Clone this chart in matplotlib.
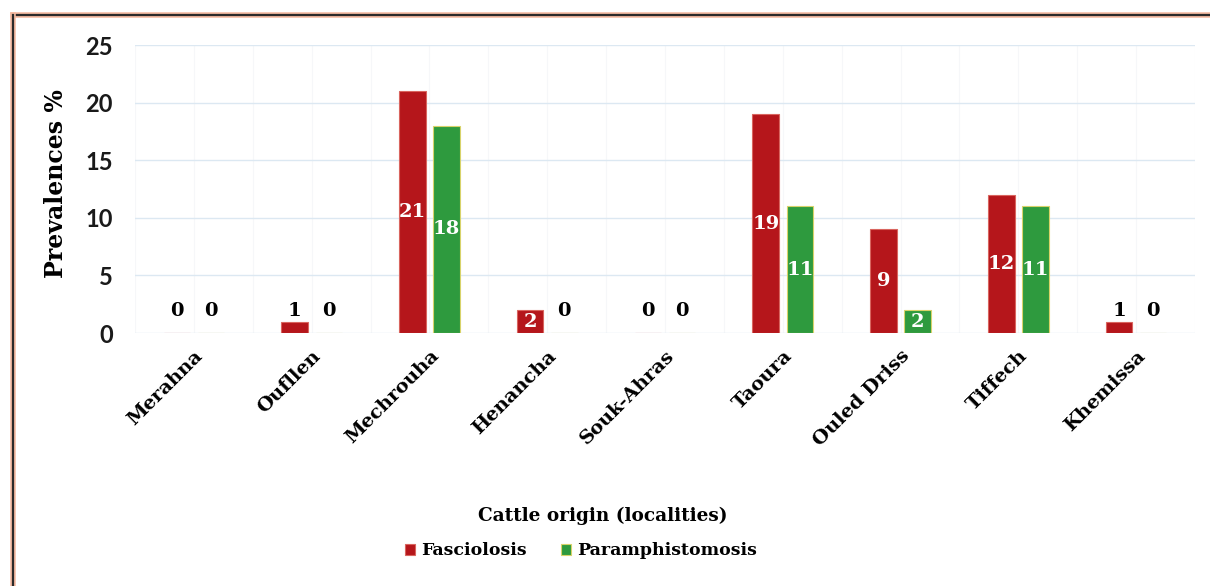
import numpy as np
import matplotlib
matplotlib.use("Agg")
import matplotlib.pyplot as plt
from matplotlib.lines import Line2D

localities = ["Merahna", "Oufllen", "Mechrouha", "Henancha", "Souk-Ahras",
              "Taoura", "Ouled Driss", "Tiffech", "Khemissa"]
fasciolosis = [0, 1, 21, 2, 0, 19, 9, 12, 1]
paramphistomosis = [0, 0, 18, 0, 0, 11, 2, 11, 0]

red = "#b5161b"
green = "#2e9a3e"
serif = "DejaVu Serif"
sans = "Lato"

fig = plt.figure(figsize=(12.1, 5.86), dpi=100)
ax = fig.add_axes([0.1116, 0.4317, 0.876, 0.4915])

x = np.arange(len(localities))
w = 0.225
off = 0.145
b1 = ax.bar(x - off, fasciolosis, w, color=red, edgecolor="#d9655f", linewidth=0.8, label="Fasciolosis")
b2 = ax.bar(x + off, paramphistomosis, w, color=green, edgecolor="#d8d36a", linewidth=0.8, label="Paramphistomosis")

# value labels: inside the bar when it is tall enough, otherwise just above the base
for xs, vals in ((x - off, fasciolosis), (x + off, paramphistomosis)):
    for xi, v in zip(xs, vals):
        if v >= 2:
            ax.text(xi, v / 2, str(v), ha="center", va="center", color="white",
                    fontsize=14, fontweight="bold", family=serif)
        else:
            ax.text(xi, 1.9, str(v), ha="center", va="center", color="black",
                    fontsize=14, fontweight="bold", family=serif)

ax.set_xlim(-0.5, len(localities) - 0.5)
ax.set_ylim(0, 25)
ax.set_yticks([0, 5, 10, 15, 20, 25])
ax.yaxis.grid(True, color="#dce8f2", linewidth=1.0)
for xv in np.arange(-0.5, len(localities), 0.5):
    ax.axvline(xv, color="#f6f7f9", linewidth=0.8, zorder=0)
ax.set_axisbelow(True)
for s in ax.spines.values():
    s.set_visible(False)
ax.tick_params(length=0)
ax.tick_params(axis="y", pad=16)
ax.tick_params(axis="x", pad=10)

ax.set_xticks(x)
ax.set_xticklabels(localities, rotation=45, ha="right", va="top", rotation_mode="anchor",
                   fontsize=14, fontweight="bold", family=serif)
for lab in ax.get_yticklabels():
    lab.set_fontsize(17)
    lab.set_fontweight("bold")
    lab.set_family(sans)
    lab.set_color("#1a1a1a")

ax.set_ylabel("Prevalences %", fontsize=17, fontweight="bold", family=serif)
ax.yaxis.set_label_coords(-0.063, 0.52)

fig.text(0.498, 0.119, "Cattle origin (localities)", ha="center", va="center",
         fontsize=13.3, fontweight="bold", family=serif)
fig.legend(handles=[b1, b2], loc="center", bbox_to_anchor=(0.48, 0.06), ncol=2,
           frameon=False, prop={"family": serif, "weight": "bold", "size": 12.5},
           handlelength=0.6, handleheight=0.6, handletextpad=0.3, columnspacing=2.0)

# outer frame: top and left edges only
for xs, ys in (([0.011, 1.0], [0.974, 0.974]), ([0.011, 0.011], [0.974, 0.0])):
    fig.add_artist(Line2D(xs, ys, transform=fig.transFigure, color="#f4b9a0", linewidth=4))
    fig.add_artist(Line2D(xs, ys, transform=fig.transFigure, color="#2b2b2b", linewidth=1.6))

fig.savefig("out.png", dpi=100)
